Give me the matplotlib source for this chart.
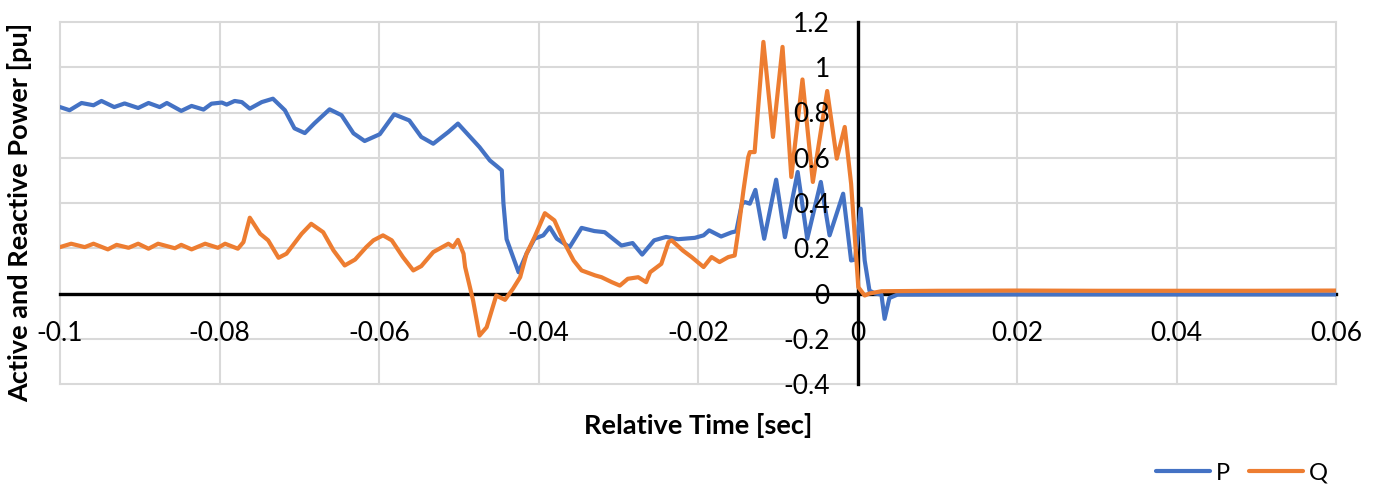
import matplotlib
matplotlib.use("Agg")
import matplotlib.pyplot as plt

plt.rcParams['font.family'] = ['Lato', 'DejaVu Sans']

# ---- data ----
t_P = [-0.1, -0.0988, -0.0973, -0.0958, -0.0948, -0.0932, -0.0919, -0.0902, -0.0889, -0.0875,
       -0.0866, -0.0848, -0.0835, -0.0820, -0.0810, -0.0797, -0.0791, -0.0781, -0.0772, -0.0762,
       -0.0747, -0.0733, -0.0718, -0.0706, -0.0693, -0.0681, -0.0662, -0.0647, -0.0632, -0.0618,
       -0.0599, -0.0581, -0.0562, -0.0547, -0.0532, -0.0513, -0.0501, -0.0474, -0.0461, -0.0451,
       -0.0446, -0.0444, -0.0440, -0.0425, -0.0415, -0.0405, -0.0394, -0.0386, -0.0377, -0.0361,
       -0.0346, -0.0330, -0.0317, -0.0296, -0.0282, -0.0270, -0.0255, -0.0240, -0.0225, -0.0204,
       -0.0193, -0.0186, -0.0171, -0.0158, -0.0152, -0.0145, -0.0141, -0.0135, -0.0128, -0.0117,
       -0.0102, -0.0091, -0.0075, -0.0063, -0.0046, -0.0035, -0.0018, -0.0008, -0.0003, 0.0004,
       0.0009, 0.0015, 0.0022, 0.0030, 0.0034, 0.0040, 0.0050, 0.02, 0.04, 0.06]
P = [0.824, 0.810, 0.842, 0.832, 0.851, 0.824, 0.840, 0.820, 0.842, 0.824,
     0.842, 0.807, 0.829, 0.813, 0.839, 0.844, 0.835, 0.851, 0.846, 0.817,
     0.846, 0.861, 0.810, 0.730, 0.709, 0.752, 0.814, 0.788, 0.708, 0.674,
     0.704, 0.792, 0.765, 0.692, 0.662, 0.714, 0.751, 0.647, 0.588, 0.559,
     0.544, 0.400, 0.240, 0.094, 0.176, 0.242, 0.257, 0.293, 0.242, 0.205,
     0.290, 0.276, 0.271, 0.212, 0.223, 0.172, 0.235, 0.250, 0.240, 0.246,
     0.257, 0.279, 0.252, 0.270, 0.275, 0.397, 0.404, 0.397, 0.458, 0.242,
     0.503, 0.249, 0.537, 0.242, 0.493, 0.257, 0.441, 0.146, 0.150, 0.375,
     0.146, 0.013, 0.000, -0.005, -0.112, -0.020, -0.005, -0.004, -0.004, -0.004]

t_Q = [-0.1, -0.0986, -0.0969, -0.0958, -0.0940, -0.0929, -0.0914, -0.0902, -0.0889, -0.0877,
       -0.0856, -0.0848, -0.0835, -0.0818, -0.0802, -0.0793, -0.0777, -0.0770, -0.0762, -0.0749,
       -0.0739, -0.0726, -0.0716, -0.0697, -0.0685, -0.0670, -0.0657, -0.0643, -0.0630, -0.0616,
       -0.0607, -0.0595, -0.0584, -0.0570, -0.0557, -0.0547, -0.0532, -0.0513, -0.0507, -0.0501,
       -0.0494, -0.0492, -0.0482, -0.0474, -0.0465, -0.0453, -0.0442, -0.0432, -0.0423, -0.0415,
       -0.0405, -0.0392, -0.0380, -0.0367, -0.0356, -0.0346, -0.0329, -0.0321, -0.0308, -0.0298,
       -0.0288, -0.0275, -0.0265, -0.0260, -0.0246, -0.0237, -0.0233, -0.0219, -0.0208, -0.0193,
       -0.0183, -0.0173, -0.0162, -0.0154, -0.0150, -0.0143, -0.0137, -0.0135, -0.0129, -0.0118,
       -0.0106, -0.0094, -0.0083, -0.0069, -0.0056, -0.0038, -0.0026, -0.0016, -0.0008, 0.0001,
       0.0009, 0.0015, 0.0030, 0.0100, 0.0200, 0.0300, 0.0400, 0.0500, 0.06]
Q = [0.205, 0.220, 0.205, 0.220, 0.195, 0.215, 0.202, 0.220, 0.198, 0.220,
     0.200, 0.215, 0.195, 0.220, 0.202, 0.220, 0.198, 0.227, 0.335, 0.264,
     0.235, 0.158, 0.176, 0.264, 0.308, 0.271, 0.190, 0.124, 0.150, 0.205,
     0.235, 0.257, 0.235, 0.161, 0.102, 0.121, 0.183, 0.220, 0.205, 0.237,
     0.176, 0.117, -0.031, -0.186, -0.149, -0.009, -0.028, 0.021, 0.072, 0.176,
     0.249, 0.355, 0.323, 0.220, 0.146, 0.102, 0.080, 0.072, 0.050, 0.035,
     0.065, 0.072, 0.050, 0.094, 0.131, 0.227, 0.235, 0.190, 0.161, 0.117,
     0.161, 0.139, 0.161, 0.168, 0.264, 0.456, 0.603, 0.625, 0.625, 1.112,
     0.692, 1.090, 0.515, 0.946, 0.493, 0.895, 0.596, 0.736, 0.485, 0.028,
     -0.009, 0.000, 0.010, 0.012, 0.013, 0.012, 0.012, 0.012, 0.013]

x_ticks = [-0.1, -0.08, -0.06, -0.04, -0.02, 0.0, 0.02, 0.04, 0.06]
x_tick_labels = ["-0.1", "-0.08", "-0.06", "-0.04", "-0.02", "0", "0.02", "0.04", "0.06"]
y_ticks = [-0.4, -0.2, 0.0, 0.2, 0.4, 0.6, 0.8, 1.0, 1.2]
y_tick_labels = ["-0.4", "-0.2", "0", "0.2", "0.4", "0.6", "0.8", "1", "1.2"]

# ---- figure ----
fig = plt.figure(figsize=(13.75, 4.87), dpi=100)
ax = fig.add_axes([60 / 1375, 1 - 384 / 487, (1336 - 60) / 1375, (384 - 22) / 487])

ax.set_xlim(x_ticks[0], x_ticks[-1])
ax.set_ylim(y_ticks[0], y_ticks[-1])

grid_color = "#d9d9d9"
for xv in x_ticks:
    ax.axvline(xv, color=grid_color, lw=1.5, zorder=0.5, clip_on=False)
for yv in y_ticks:
    ax.axhline(yv, color=grid_color, lw=1.5, zorder=0.5, clip_on=False)

ax.plot(t_P, P, color="#4472C4", lw=3.0, label="P", zorder=3,
        solid_joinstyle="round", solid_capstyle="round")
ax.plot(t_Q, Q, color="#ED7D31", lw=3.0, label="Q", zorder=3.1,
        solid_joinstyle="round", solid_capstyle="round")

for s in ["top", "right"]:
    ax.spines[s].set_visible(False)
ax.spines["left"].set_position(("data", 0))
ax.spines["bottom"].set_position(("data", 0))
for s in ["left", "bottom"]:
    ax.spines[s].set_linewidth(2.4)
    ax.spines[s].set_color("black")
    ax.spines[s].set_zorder(2)

ax.set_xticks(x_ticks)
ax.set_xticklabels(x_tick_labels)
ax.set_yticks(y_ticks)
ax.set_yticklabels(y_tick_labels)
ax.tick_params(axis="both", length=0, labelsize=19, colors="black")
ax.tick_params(axis="x", pad=20)
ax.tick_params(axis="y", pad=20)
ax.xaxis.set_zorder(4)
ax.yaxis.set_zorder(4)

fig.text(698 / 1375, 1 - 426 / 487, "Relative Time [sec]", ha="center", va="center",
         fontsize=19.5, fontweight="bold")
fig.text(20 / 1375, 1 - 212 / 487, "Active and Reactive Power [pu]", ha="center", va="center",
         rotation=90, fontsize=19.5, fontweight="bold")

fig.legend(loc="center", bbox_to_anchor=(1242 / 1375, 1 - 473 / 487), ncol=2, frameon=False,
           fontsize=17, handlelength=2.3, handletextpad=0.25, columnspacing=0.8)

fig.savefig("out.png", dpi=100)
